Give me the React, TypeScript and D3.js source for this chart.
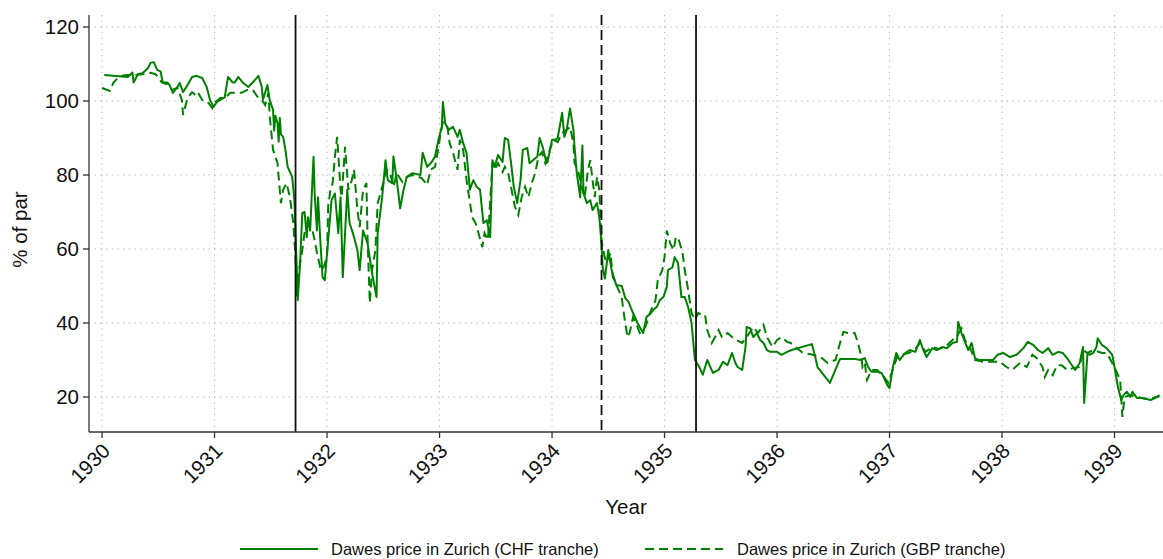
import React from "react";
import * as d3 from "d3";

// Dawes loan prices quoted in Zurich, % of par
// [decimal year, price]
const chfPrices: [number, number][] = [
  [1930.02, 107], [1930.23, 106.5], [1930.27, 107.7], [1930.28, 105], [1930.32, 107.3],
  [1930.36, 107.5], [1930.41, 109], [1930.43, 110.3], [1930.46, 110.5], [1930.49, 108.4],
  [1930.52, 108], [1930.53, 106.5], [1930.54, 105], [1930.58, 105], [1930.6, 104.3],
  [1930.63, 102.2], [1930.67, 103.8], [1930.69, 104.9], [1930.72, 102.4], [1930.76, 104.3],
  [1930.8, 106.5], [1930.84, 106.8], [1930.89, 106.2], [1930.93, 103.8], [1930.96, 100.3],
  [1930.99, 98.4], [1931.02, 99.7], [1931.05, 100.3], [1931.09, 101], [1931.12, 106.5],
  [1931.16, 105], [1931.18, 105], [1931.21, 106.5], [1931.25, 105], [1931.3, 103.8],
  [1931.34, 105], [1931.39, 106.8], [1931.42, 103.8], [1931.43, 100.3], [1931.47, 104.3],
  [1931.49, 100.3], [1931.52, 97.6], [1931.53, 92], [1931.54, 96], [1931.56, 94],
  [1931.57, 89], [1931.58, 95.4], [1931.59, 91], [1931.61, 90.3],
  [1931.63, 86.8], [1931.65, 82.2], [1931.69, 79.5], [1931.71, 73.2], [1931.72, 64.3],
  [1931.74, 46.2], [1931.76, 56], [1931.78, 69.7], [1931.8, 70], [1931.82, 63.2],
  [1931.83, 68.6], [1931.85, 65], [1931.87, 78.6], [1931.88, 84.9], [1931.89, 75],
  [1931.91, 65], [1931.92, 74], [1931.94, 62.4], [1931.96, 52.4], [1931.98, 51.6],
  [1932.01, 62.4], [1932.04, 73.2], [1932.07, 75], [1932.1, 64.3], [1932.12, 74],
  [1932.14, 52.4], [1932.18, 76], [1932.2, 67], [1932.23, 64.3], [1932.27, 59.7],
  [1932.29, 54.3], [1932.32, 65], [1932.36, 61.6], [1932.4, 53.5], [1932.44, 47],
  [1932.45, 64.3], [1932.49, 74], [1932.52, 84], [1932.54, 78.6], [1932.58, 77.8],
  [1932.59, 85], [1932.62, 78.6], [1932.65, 71], [1932.68, 76], [1932.71, 79.5],
  [1932.76, 80.5], [1932.83, 80], [1932.85, 86], [1932.89, 82.2], [1932.93, 83.5],
  [1932.96, 85], [1932.99, 89.5], [1933.02, 93], [1933.03, 99.7], [1933.05, 94],
  [1933.08, 92.2], [1933.12, 93], [1933.16, 90.3], [1933.18, 92.2], [1933.21, 88.6],
  [1933.24, 86], [1933.27, 76], [1933.3, 78.6], [1933.33, 76.8], [1933.36, 76],
  [1933.39, 67], [1933.42, 67.8], [1933.45, 63.2], [1933.47, 84], [1933.49, 82.2],
  [1933.52, 85.4], [1933.56, 83.5], [1933.58, 90], [1933.61, 89.5], [1933.64, 82.2],
  [1933.66, 76.8], [1933.69, 72.4], [1933.72, 78.6], [1933.74, 86.8], [1933.78, 87.3],
  [1933.8, 83.2], [1933.83, 84], [1933.87, 85], [1933.89, 90], [1933.92, 87.3],
  [1933.95, 83.2], [1933.96, 83.5], [1934.0, 89.5], [1934.03, 89.5], [1934.05, 90],
  [1934.09, 96.8], [1934.11, 90.3], [1934.13, 92.2], [1934.16, 98], [1934.19, 92.2],
  [1934.2, 87.6], [1934.22, 80.5], [1934.25, 74], [1934.27, 88], [1934.28, 75],
  [1934.31, 72.4], [1934.34, 73.2], [1934.36, 70.5], [1934.4, 72.4], [1934.42, 68.6],
  [1934.44, 61.6], [1934.45, 55], [1934.47, 52], [1934.49, 57], [1934.5, 59.7],
  [1934.53, 54.3], [1934.57, 50.3], [1934.62, 50], [1934.65, 46.8], [1934.68, 45.7],
  [1934.72, 42.7], [1934.76, 40], [1934.81, 37.3], [1934.84, 41.6], [1934.88, 42.7],
  [1934.9, 43.5], [1934.93, 44.3], [1934.96, 46.2], [1934.99, 47], [1935.02, 49.7],
  [1935.03, 54.3], [1935.07, 55], [1935.09, 57.8], [1935.12, 56.2], [1935.15, 47],
  [1935.18, 47], [1935.21, 44.3], [1935.24, 40], [1935.27, 30], [1935.31, 28.1],
  [1935.34, 26], [1935.38, 30], [1935.4, 28.6], [1935.43, 26.5], [1935.48, 27.3],
  [1935.52, 29.5], [1935.56, 28.6], [1935.6, 31.9], [1935.63, 29.2], [1935.65, 28.1],
  [1935.69, 27.3], [1935.72, 33.5], [1935.73, 38.9], [1935.76, 38.6], [1935.79, 36.2],
  [1935.82, 37.3], [1935.85, 35.4], [1935.88, 34.6], [1935.91, 32.7], [1935.94, 32.2],
  [1936.0, 32.2], [1936.04, 31.4], [1936.09, 32.2], [1936.13, 32.7], [1936.31, 34.3],
  [1936.34, 30.8], [1936.36, 28.1], [1936.47, 23.8], [1936.56, 30.3], [1936.69, 30.3],
  [1936.74, 30], [1936.78, 30.5], [1936.81, 28.1], [1936.84, 26.8], [1936.89, 26.8],
  [1936.93, 26.5], [1936.98, 23.2], [1937.0, 22.4], [1937.03, 28.1], [1937.06, 31.9],
  [1937.09, 30], [1937.14, 31.9], [1937.18, 32.7], [1937.23, 32.2], [1937.27, 35.4],
  [1937.3, 32.7], [1937.33, 30.8], [1937.38, 33.2], [1937.42, 32.7], [1937.47, 33.5],
  [1937.51, 33.2], [1937.56, 34.6], [1937.6, 34.9], [1937.61, 40.3], [1937.64, 37.3],
  [1937.67, 34.9], [1937.7, 32.7], [1937.73, 34.6], [1937.76, 30.5], [1937.79, 30],
  [1937.92, 30], [1937.96, 31.4], [1938.01, 31.9], [1938.07, 30.8], [1938.13, 31.4],
  [1938.19, 33.2], [1938.23, 34.9], [1938.28, 34], [1938.32, 32.7], [1938.36, 31.9],
  [1938.41, 33.2], [1938.45, 31.4], [1938.5, 32.2], [1938.54, 31.9], [1938.59, 30],
  [1938.65, 27.3], [1938.69, 29.2], [1938.72, 33.5], [1938.73, 18.4], [1938.76, 31.9],
  [1938.78, 31.4], [1938.81, 31.9], [1938.84, 33.5], [1938.85, 35.9], [1938.89, 34],
  [1938.93, 33.2], [1938.98, 31.4], [1939.0, 28.1], [1939.03, 22.7], [1939.06, 19.2],
  [1939.08, 20.5], [1939.11, 21.4], [1939.14, 20], [1939.16, 21.4], [1939.2, 19.7],
  [1939.25, 19.7], [1939.32, 19.2], [1939.36, 19.7], [1939.4, 20.5],
];

const gbpPrices: [number, number][] = [
  [1930.0, 103.5], [1930.07, 102.7], [1930.1, 104.9], [1930.13, 105.9], [1930.18, 106.8],
  [1930.22, 107], [1930.29, 107], [1930.38, 107.3], [1930.43, 107.6], [1930.47, 107.3],
  [1930.5, 106.5], [1930.53, 105], [1930.58, 104.5], [1930.62, 103], [1930.67, 103.5],
  [1930.71, 100.3], [1930.72, 96.2], [1930.76, 100.8], [1930.8, 102.4], [1930.83, 101.6],
  [1930.85, 102.4], [1930.89, 100.3], [1930.94, 99.7], [1930.98, 98.1], [1931.0, 99.5],
  [1931.05, 100.8], [1931.09, 100.8], [1931.14, 102.2], [1931.18, 102.2], [1931.24, 102.2],
  [1931.29, 103], [1931.34, 103], [1931.39, 100.8], [1931.42, 100.3], [1931.45, 98.9],
  [1931.48, 102.2], [1931.49, 96], [1931.52, 86.8], [1931.56, 83.2], [1931.57, 79.5],
  [1931.59, 72.4], [1931.61, 76], [1931.64, 77.8], [1931.67, 74], [1931.7, 67],
  [1931.72, 57.8], [1931.73, 47], [1931.74, 52.4], [1931.78, 59.7], [1931.8, 64.3],
  [1931.83, 67], [1931.87, 65], [1931.89, 62.4], [1931.91, 59], [1931.94, 55],
  [1931.96, 54.3], [1932.0, 57.8], [1932.01, 71.4], [1932.03, 76], [1932.05, 77.8],
  [1932.07, 85], [1932.09, 90.3], [1932.12, 76], [1932.13, 74], [1932.16, 87.6],
  [1932.19, 76], [1932.22, 78.6], [1932.24, 81.4], [1932.27, 70.5], [1932.29, 65.9],
  [1932.32, 76], [1932.35, 77.8], [1932.36, 63.2], [1932.38, 45.4], [1932.4, 54.3],
  [1932.43, 59.7], [1932.45, 72.4], [1932.5, 77.8], [1932.53, 81.4], [1932.56, 80.5],
  [1932.59, 76.8], [1932.62, 80.5], [1932.67, 78.1], [1932.71, 79.5], [1932.76, 80],
  [1932.84, 79.2], [1932.89, 77.3], [1932.92, 81.4], [1932.96, 82.2], [1932.99, 87.3],
  [1933.01, 91.4], [1933.03, 94.3], [1933.07, 93], [1933.09, 88.6], [1933.12, 86],
  [1933.16, 81.4], [1933.18, 89.5], [1933.21, 86.8], [1933.24, 78.6], [1933.29, 68.6],
  [1933.32, 67], [1933.34, 65], [1933.38, 60.5], [1933.4, 64.3], [1933.43, 62.4],
  [1933.47, 83.2], [1933.49, 81.4], [1933.52, 83.2], [1933.56, 80.8], [1933.58, 82.2],
  [1933.61, 80.5], [1933.64, 76], [1933.67, 71.4], [1933.7, 69.2], [1933.73, 74],
  [1933.76, 76.8], [1933.79, 74], [1933.82, 77.8], [1933.85, 80.5], [1933.88, 85],
  [1933.91, 86.2], [1933.94, 83.2], [1933.96, 85], [1934.01, 89.5], [1934.05, 88.9],
  [1934.09, 91.4], [1934.13, 92.2], [1934.16, 93], [1934.19, 88.6], [1934.2, 83.2],
  [1934.23, 81.4], [1934.27, 76], [1934.29, 74], [1934.32, 81.4], [1934.34, 84],
  [1934.36, 78.6], [1934.38, 74], [1934.4, 79.5], [1934.42, 76], [1934.44, 62.4],
  [1934.45, 60.5], [1934.48, 56.2], [1934.52, 58.9], [1934.54, 52.4], [1934.58, 49.7],
  [1934.62, 47], [1934.63, 44.3], [1934.67, 36.2], [1934.69, 37.3], [1934.72, 41.6],
  [1934.76, 38.9], [1934.78, 37.3], [1934.83, 38.9], [1934.87, 42.7], [1934.92, 46.2],
  [1934.94, 51.6], [1934.98, 54.3], [1935.0, 57.8], [1935.02, 65], [1935.05, 61.6],
  [1935.08, 59.7], [1935.1, 63], [1935.12, 63.2], [1935.16, 59], [1935.18, 54.3],
  [1935.21, 48.9], [1935.24, 42.7], [1935.27, 40.8], [1935.3, 42.7], [1935.33, 42.2],
  [1935.36, 42.2], [1935.38, 38.1], [1935.42, 34.6], [1935.45, 36.2], [1935.48, 38.1],
  [1935.51, 36.2], [1935.56, 37.3], [1935.6, 36.2], [1935.64, 35.4], [1935.69, 34.6],
  [1935.73, 36.2], [1935.79, 38.9], [1935.83, 37.3], [1935.88, 39.5], [1935.91, 36.2],
  [1935.96, 33.5], [1936.0, 35.4], [1936.04, 36.2], [1936.09, 34.9], [1936.12, 34.6],
  [1936.23, 31.9], [1936.32, 31.4], [1936.4, 30.5], [1936.45, 29.2], [1936.52, 30],
  [1936.56, 34.6], [1936.59, 37.6], [1936.63, 37.3], [1936.69, 37.3], [1936.72, 34.6],
  [1936.75, 30.8], [1936.76, 28.1], [1936.78, 29.2], [1936.8, 24.6], [1936.84, 27.3],
  [1936.89, 27.3], [1936.94, 25.9], [1936.99, 23.8], [1937.03, 27.5], [1937.07, 31],
  [1937.12, 31.5], [1937.18, 32], [1937.23, 33], [1937.27, 34.6], [1937.32, 32.2],
  [1937.38, 33.5], [1937.44, 33], [1937.51, 34], [1937.56, 35.4], [1937.6, 36.5],
  [1937.64, 38.5], [1937.67, 35.4], [1937.72, 33], [1937.76, 30], [1937.84, 29.5],
  [1937.98, 29.5], [1938.04, 28.1], [1938.09, 27.3], [1938.16, 29.2], [1938.22, 28.1],
  [1938.27, 31.4], [1938.31, 30.5], [1938.36, 28.1], [1938.38, 25.4], [1938.41, 27.3],
  [1938.45, 25.9], [1938.49, 28.6], [1938.53, 28.6], [1938.58, 27.3], [1938.63, 27.8],
  [1938.69, 28.1], [1938.72, 32.7], [1938.76, 31.9], [1938.81, 32.7], [1938.89, 31.9],
  [1938.93, 31.9], [1939.0, 28.1], [1939.05, 24.6], [1939.07, 14.6], [1939.09, 20],
  [1939.14, 20.5], [1939.2, 20], [1939.27, 19.5], [1939.33, 19.7], [1939.4, 20.2],
];

// vertical reference lines
const eventYears = [1931.72, 1934.44, 1935.28];
const eventDashed = [false, true, false];

const yearTicks = [1930, 1931, 1932, 1933, 1934, 1935, 1936, 1937, 1938, 1939];
const valueTicks = [20, 40, 60, 80, 100, 120];

const seriesNames = ["Dawes price in Zurich (CHF tranche)", "Dawes price in Zurich (GBP tranche)"];

const W = 1163;
const H = 559;
const FONT = "'Liberation Sans', Arial, Helvetica, sans-serif";
const GREEN = "#008000";

export default function App() {
  const left = 89, right = 1163, top = 15, bottom = 432;

  const x = d3.scaleLinear().domain([1929.884, 1939.431]).range([left, right]);
  const y = d3.scaleLinear().domain([10.54, 123.24]).range([bottom, top]);

  const line = d3.line<[number, number]>()
    .x(d => x(d[0]))
    .y(d => y(d[1]));

  return (
    <svg width={W} height={H} style={{ position: "absolute", left: 0, top: 0, background: "#fff" }}
      fontFamily={FONT}>
      {/* grid */}
      <g stroke="#b0b0b0" strokeWidth={1} strokeDasharray="1.2 4.5">
        {valueTicks.map(v => (
          <line key={"h" + v} x1={left} x2={right} y1={y(v)} y2={y(v)} />
        ))}
        {yearTicks.map(t => (
          <line key={"v" + t} x1={x(t)} x2={x(t)} y1={top} y2={bottom} />
        ))}
      </g>

      {/* series */}
      <path d={line(chfPrices) || ""} fill="none" stroke={GREEN} strokeWidth={2} strokeLinejoin="round" />
      <path d={line(gbpPrices) || ""} fill="none" stroke={GREEN} strokeWidth={2} strokeDasharray="9 5" />

      {/* event lines */}
      {eventYears.map((e, i) => (
        <line key={"e" + i} x1={x(e)} x2={x(e)} y1={top} y2={bottom}
          stroke="#111" strokeWidth={1.8} strokeDasharray={eventDashed[i] ? "10 5" : undefined} />
      ))}

      {/* y axis */}
      <line x1={left} x2={left} y1={top} y2={bottom} stroke="#333" strokeWidth={1.3} />
      {valueTicks.map(v => (
        <g key={"yt" + v} transform={`translate(${left},${y(v)})`}>
          <line x1={-6} x2={0} stroke="#333" strokeWidth={1.3} />
          <text x={-10} dy="0.36em" textAnchor="end" fontSize={20.5} fill="#111">{v}</text>
        </g>
      ))}
      <text transform={`translate(27,${(top + bottom) / 2 + 6}) rotate(-90)`} textAnchor="middle"
        fontSize={20.5} fill="#111">% of par</text>

      {/* x axis */}
      <line x1={left} x2={right} y1={bottom} y2={bottom} stroke="#333" strokeWidth={1.3} />
      {yearTicks.map(t => (
        <g key={"xt" + t} transform={`translate(${x(t)},${bottom})`}>
          <line y1={0} y2={6} stroke="#333" strokeWidth={1.3} />
          <text transform="translate(4,15) rotate(-45)" dy="0.36em" textAnchor="end"
            fontSize={20.5} fill="#111">{t}</text>
        </g>
      ))}
      <text x={(left + right) / 2} y={514} textAnchor="middle" fontSize={20.5} fill="#111">Year</text>

      {/* legend */}
      <g transform="translate(240,549)">
        <line x1={0} x2={78} stroke={GREEN} strokeWidth={1.8} />
        <text x={91} dy="0.36em" fontSize={16.5} fill="#111">{seriesNames[0]}</text>
      </g>
      <g transform="translate(645,549)">
        <line x1={0} x2={78} stroke={GREEN} strokeWidth={1.8} strokeDasharray="9 5" />
        <text x={92} dy="0.36em" fontSize={16.5} fill="#111">{seriesNames[1]}</text>
      </g>
    </svg>
  );
}
